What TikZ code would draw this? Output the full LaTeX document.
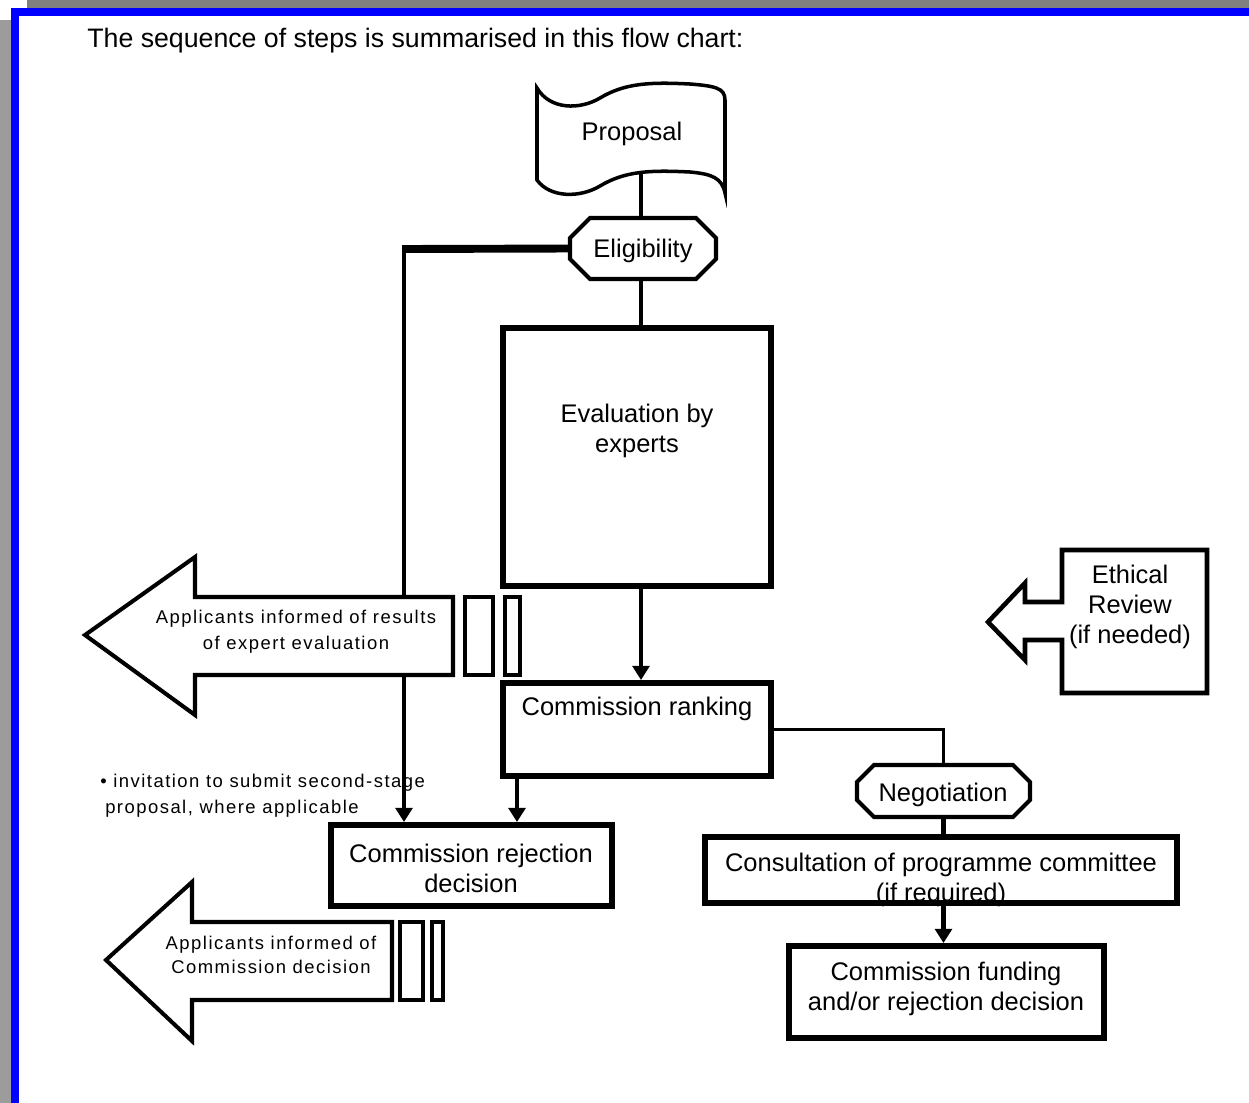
\documentclass[tikz,border=0pt]{standalone}
\usepackage{fontspec}
\setmainfont{Liberation Sans}
\newfontfamily\spaced[LetterSpace=8]{Liberation Sans}
\usetikzlibrary{arrows.meta,fit}
\pgfdeclarelayer{back}
\pgfdeclarelayer{bg}
\pgfsetlayers{back,bg,main}
\definecolor{frameblue}{RGB}{0,0,255}
\definecolor{framegrayA}{RGB}{128,128,128}
\definecolor{framegrayB}{RGB}{156,156,156}
\newcommand\octagon[5]{\draw[octline] (#1+#5,#2) -- (#3-#5,#2) -- (#3,#2+#5) -- (#3,#4-#5) -- (#3-#5,#4) -- (#1+#5,#4) -- (#1,#4-#5) -- (#1,#2+#5) -- cycle;}
\tikzset{
  hdr/.style={font=\fontsize{15.2}{18}\selectfont, inner sep=0},
  lbl/.style={font=\fontsize{14.5}{17}\selectfont, align=center, inner sep=0},
  sml/.style={font=\spaced\fontsize{10.5}{14.7}\selectfont, align=center, inner sep=0},
  bx/.style={draw, line width=3.4pt, fill=white, inner sep=0},
  thinbx/.style={draw, line width=2.3pt, fill=white, inner sep=0},
  octline/.style={draw, line width=2.3pt, fill=white, line join=miter},
  shp/.style={draw, line width=2.3pt, fill=white, line join=miter},
  anchorbox/.style={inner sep=0},
  conn/.style={line width=2.3pt},
  thinconn/.style={line width=1.7pt},
  arr/.style={conn, -{Triangle[width=9.5pt,length=8pt]}},
}
\begin{document}
\begin{tikzpicture}[x=0.02cm,y=-0.02cm]
\useasboundingbox (0,0) rectangle (1249,1103);
\begin{pgfonlayer}{back}
  \fill[white] (0,0) rectangle (1249,1103);
  \fill[framegrayB] (0,20) rectangle (11,1103);
  \fill[framegrayA] (27,0) rectangle (1249,8);
  \fill[frameblue] (11,8) rectangle (1249,16);
  \fill[frameblue] (11,8) rectangle (19,1103);
  \node[hdr, anchor=west] (title) at (87,41) {The sequence of steps is summarised in this flow chart:};
  \node[sml, anchor=north west, align=left] (note) at (100,774) {• invitation to submit second-stage\\\hspace*{2.8pt}proposal, where applicable};
\end{pgfonlayer}

% Proposal
\node[anchorbox, fit={(537,85)(727,197)}] (prop) {};
\draw[shp, line width=2pt] (537,88) .. controls (550,110) and (580,110) .. (600,98)
  .. controls (625,83) and (650,82) .. (690,84)
  .. controls (715,86) and (725,88) .. (725,100) -- (725,193)
  .. controls (722,178) and (712,174) .. (690,172)
  .. controls (650,170) and (625,171) .. (600,186)
  .. controls (580,198) and (550,198) .. (537,180) -- cycle;
\node[lbl] (tprop) at (632,134) {Proposal};

% Eligibility
\node[anchorbox, fit={(570,218)(716,279)}] (elig) {};
\octagon{570}{218}{716}{279}{20}
\node[lbl] (telig) at (643,251) {Eligibility};

% Evaluation
\node[bx, line width=3pt, fit={(503,328)(771,586)}] (eval) {};
\node[lbl] (teval) at (637,431) {Evaluation by\\experts};

% Ranking
\node[bx, fit={(503,683)(771,776)}] (rank) {};
\node[lbl] (trank) at (637,709) {Commission ranking};

% Rejection
\node[bx, fit={(331,825)(612,906)}] (rej) {};
\node[lbl] (trej) at (471,868) {Commission rejection\\decision};

% Negotiation
\node[anchorbox, fit={(857,765)(1030,817)}] (neg) {};
\octagon{857}{765}{1030}{817}{17}
\node[lbl] (tneg) at (943,795) {Negotiation};

% Consultation
\node[bx, fit={(705,837)(1177,903)}] (cons) {};
\node[lbl] (tcons) at (941,880) {Consultation of programme committee\\(if required)};
\draw[line width=3.4pt] (705,837) rectangle (1177,903);

% Funding
\node[bx, fit={(789,946)(1104,1038)}] (fund) {};
\node[lbl] (tfund) at (946,989) {Commission funding\\and/or rejection decision};

% Ethical review
\node[anchorbox, fit={(988,550)(1207,693)}] (eth) {};
\draw[shp, line width=2.6pt] (1062,550) -- (1207,550) -- (1207,693) -- (1062,693) -- (1062,640) -- (1025,640) -- (1025,660) -- (988,622) -- (1025,583) -- (1025,602) -- (1062,602) -- cycle;
\node[lbl] (teth) at (1130,607) {Ethical\\Review\\(if needed)};

% Arrow 1
\node[anchorbox, fit={(85,557)(453,715)}] (inf1) {};
\draw[shp] (453,597) -- (195,597) -- (195,557) -- (85,635) -- (195,715) -- (195,675) -- (453,675) -- cycle;
\node[thinbx, fit={(465,597)(493,675)}] (bar1a) {};
\node[thinbx, fit={(505,597)(520,675)}] (bar1b) {};
\node[sml] (tinf1) at (296,632) {Applicants informed of results\\of expert evaluation};

% Arrow 2
\node[anchorbox, fit={(106,882)(392,1041)}] (inf2) {};
\draw[shp] (392,922) -- (192,922) -- (192,882) -- (106,960) -- (192,1041) -- (192,1000) -- (392,1000) -- cycle;
\node[thinbx, fit={(400,922)(423,1000)}] (bar2a) {};
\node[thinbx, fit={(432,922)(443,1000)}] (bar2b) {};
\node[sml, font=\spaced\fontsize{10.5}{13.8}\selectfont] (tinf2) at (271,955) {Applicants informed of\\Commission decision};

% Connectors
\begin{pgfonlayer}{bg}
  \coordinate (jl) at (404,249);
  \coordinate (cx) at (641,0);
  \coordinate (rx) at (517,0);
  \draw[conn] (prop.center -| cx) -- (elig.north -| cx);
  \draw[conn] (elig.south -| cx) -- (eval.north -| cx);
  \draw[line width=4.5pt] (elig.west) -- (jl);
  \draw[arr] ([yshift=2pt]jl) -- (jl |- rej.north);
  \draw[arr] (eval.south -| cx) -- (rank.north -| cx);
  \draw[arr] (rank.south -| rx) -- (rej.north -| rx);
  \draw[thinconn] (rank.east) -| (neg.north);
  \draw[conn] (neg.south) -- (neg.south |- cons.north);
  \draw[arr] (cons.south -| neg.south) -- (fund.north -| neg.south);
\end{pgfonlayer}
\end{tikzpicture}
\end{document}
